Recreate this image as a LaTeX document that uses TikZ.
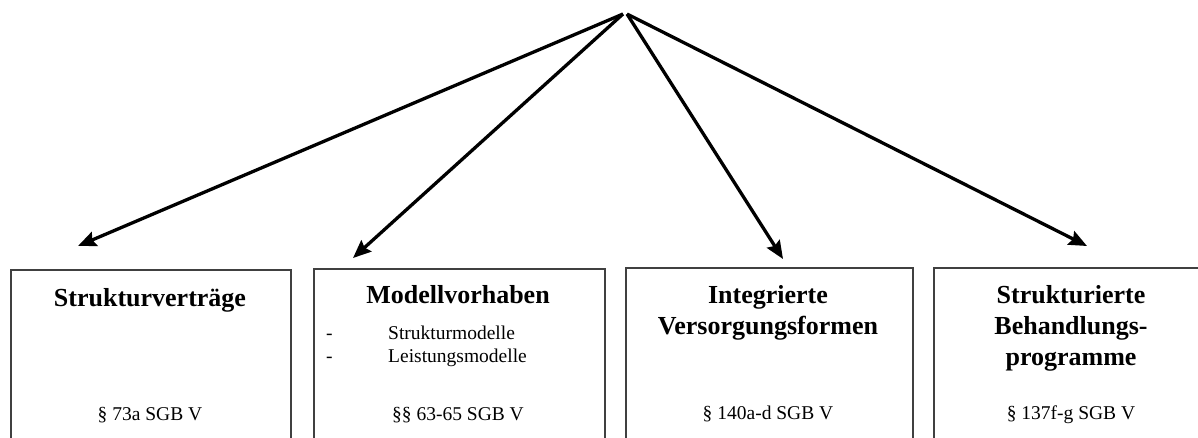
\documentclass[tikz,border=0pt]{standalone}
\usepackage{fontspec}
\setmainfont{Liberation Serif}
\usetikzlibrary{arrows.meta}
\begin{document}
\begin{tikzpicture}[x=1pt,y=-1pt,
  frame/.style={draw=black!75, line width=1.8pt, anchor=north west, inner sep=0pt},
  head/.style={font=\fontsize{26}{31}\selectfont\bfseries, anchor=base, inner sep=0pt},
  norm/.style={font=\fontsize{19.5}{23}\selectfont, anchor=base, inner sep=0pt},
  item/.style={font=\fontsize{19.5}{23}\selectfont, anchor=base west, inner sep=0pt},
  branch/.style={line width=3.3pt, -{Stealth[length=18pt,width=15pt,inset=2.5pt]}}]
\clip (0,0) rectangle (1198,438);
\fill[white] (0,0) rectangle (1198,438);

% four category boxes (open towards the bottom edge)
\node[frame, minimum width=280pt, minimum height=200pt] (b1) at (10,269) {};
\node[frame, minimum width=291pt, minimum height=200pt] (b2) at (313,268) {};
\node[frame, minimum width=287pt, minimum height=200pt] (b3) at (625,267) {};
\node[frame, minimum width=277pt, minimum height=200pt] (b4) at (933,267) {};

% box 1
\node[head] (h1) at (150,306) {Strukturverträge};
\node[norm] (p1) at (150,420) {§ 73a SGB V};

% box 2
\node[head] (h2) at (458,303) {Modellvorhaben};
\node[item] (d1) at (326,339) {-};
\node[item] (i1) at (388,339) {Strukturmodelle};
\node[item] (d2) at (326,362) {-};
\node[item] (i2) at (388,362) {Leistungsmodelle};
\node[norm] (p2) at (458,420) {§§ 63-65 SGB V};

% box 3
\node[head] (h3a) at (768,303) {Integrierte};
\node[head] (h3b) at (768,334) {Versorgungsformen};
\node[norm] (p3) at (768,419) {§ 140a-d SGB V};

% box 4
\node[head] (h4a) at (1071,303) {Strukturierte};
\node[head] (h4b) at (1071,334) {Behandlungs-};
\node[head] (h4c) at (1071,365) {programme};
\node[norm] (p4) at (1071,419) {§ 137f-g SGB V};

% branching arrows from the common apex
\coordinate (apexL) at (623,14);
\coordinate (apexR) at (627,14);
\coordinate (t1) at (78,246);
\coordinate (t2) at (353,258);
\coordinate (t3) at (783,259);
\coordinate (t4) at (1087,246);
\draw[branch] (apexL) -- (t1);
\draw[branch] (apexL) -- (t2);
\draw[branch] (apexR) -- (t3);
\draw[branch] (apexR) -- (t4);
\end{tikzpicture}
\end{document}
